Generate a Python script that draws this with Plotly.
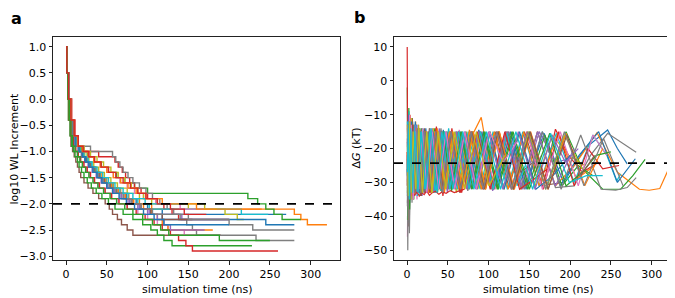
import plotly.graph_objects as go

# ---------------- data: panel a (log10 WL increment step curves) ----------------
LEVELS = [1.0, 0.5, 0.0, -0.4, -0.7, -0.9, -1.0, -1.1, -1.2, -1.3, -1.4, -1.5, -1.6,
          -1.7, -1.8, -1.9, -2.0, -2.1, -2.2, -2.3, -2.4, -2.5, -2.6, -2.7, -2.8, -2.9]

WL_STEP_TIMES = [
    [0, 1, 3, 6, 9, 12, 16, 20, 24, 29, 34, 40, 47, 55, 64, 74, 86, 100, 118],
    [0, 1, 3, 6, 9, 13, 17, 21, 26, 31, 37, 43, 50, 58, 67, 77, 90, 105, 280, 288, 296],
    [0, 1, 3, 6, 10, 14, 19, 26, 34, 43, 52, 62, 72, 84, 100, 223, 235, 245, 255, 265],
    [0, 1, 4, 7, 11, 15, 22, 40, 60, 64, 69, 73, 78, 84, 92, 100, 110, 120, 130, 138],
    [0, 1, 3, 5, 8, 11, 15, 19, 23, 27, 32, 37, 43, 50, 58, 66, 76, 88, 100, 142],
    [0, 1, 2, 3, 5, 6, 8, 10, 12, 14, 16, 18, 22, 27, 33, 40, 48, 53, 57, 63, 68, 75, 82],
    [0, 1, 2, 4, 6, 8, 11, 14, 17, 21, 25, 29, 34, 40, 47, 55, 64, 75, 88, 100, 112, 125, 145],
    [0, 1, 3, 6, 10, 15, 30, 57, 61, 66, 70, 76, 82, 90, 98, 106, 115, 124, 132, 140, 148, 155, 160, 233],
    [0, 1, 3, 6, 9, 13, 18, 23, 28, 34, 40, 47, 55, 63, 75, 90, 105, 150, 195, 210],
    [0, 1, 3, 6, 9, 13, 17, 21, 26, 31, 36, 42, 49, 57, 66, 76, 88, 102, 215],
    [0, 1, 3, 5, 8, 11, 15, 19, 23, 28, 33, 38, 44, 51, 59, 68, 78, 90, 104, 118, 245],
    [0, 1, 3, 5, 8, 12, 16, 20, 25, 30, 35, 41, 48, 56, 64, 73, 83, 95, 105, 112, 118, 125],
    [0, 1, 2, 3, 5, 7, 9, 11, 14, 16, 19, 22, 26, 31, 37, 44, 52, 60, 70, 82, 94, 104, 112, 120, 130],
    [0, 1, 3, 4, 6, 9, 12, 15, 18, 22, 26, 30, 35, 41, 48, 56, 65, 75, 86, 97, 108, 118, 128, 138, 147, 155],
    [0, 1, 3, 6, 9, 12, 16, 20, 24, 28, 33, 38, 44, 51, 59, 68, 78, 90, 102, 112, 120, 128],
    [0, 1, 3, 6, 9, 13, 17, 21, 25, 30, 35, 41, 47, 54, 62, 71, 81, 92, 104, 118],
    [0, 1, 3, 6, 10, 15, 21, 28, 35, 42, 50, 58, 66, 75, 84, 95, 110, 140],
    [0, 1, 3, 6, 9, 12, 16, 20, 24, 29, 34, 40, 46, 53, 61, 70, 80, 92, 106, 150, 200, 229],
    [0, 1, 3, 6, 10, 15, 22, 30, 38, 46, 55, 64, 72, 80, 88, 95, 112, 170],
    [0, 1, 3, 6, 9, 13, 17, 22, 27, 32, 38, 45, 52, 60, 70, 82, 97],
    [0, 1, 3, 6, 9, 12, 16, 20, 24, 28, 33, 38, 44, 50, 57, 65, 74, 84, 95, 108, 120],
    [0, 1, 3, 6, 10, 14, 20, 27, 34, 42, 50, 58, 67, 76, 86, 98, 118, 160],
    [0, 1, 2, 4, 6, 8, 11, 14, 17, 20, 24, 28, 33, 39, 46, 54, 62, 72, 82, 94, 106, 116, 126, 188],
    [0, 1, 3, 6, 10, 15, 21, 28, 35, 43, 52, 61, 70, 79, 88, 98, 112, 128, 145],
]
WL_END_TIMES = [270, 320, 288, 200, 200, 190, 165, 280, 218, 248, 280, 180,
                228, 260, 170, 155, 182, 280, 185, 145, 200, 240, 250, 172]
WL_TARGET = -2.0

# ---------------- data: panel b (Delta G estimates) ----------------
DG_TIMES = [
    [0.4,1.3,2.6,4.4,6.8,9.5,13,17.5,23,30,39,49,60,73,88,105,124,145,168,192,218,246,258,270],
    [0.6,1.8,3.3,5.2,7.6,10.5,14.5,19,25,32,41,52,64,78,91,106,122,140,160,182,205,233,258,285,297,310,320],
    [0.3,1.1,2.2,3.8,5.9,8.3,11.5,15.5,20.5,26.5,34,43,54,66,80,95,112,130,150,172,195,215,240,262,277,292],
    [0.2,0.7,1.4,2.3,3.6,5.3,7.4,10,13.5,17.5,22.5,28.5,36,45,55,67,81,96,113,131,150,168,182,198,215,232],
    [0.5,1.6,3,4.8,7,10,13.8,18.5,24,31,39.5,49.5,61,74,89,105,123,142,162,182,200],
    [0.4,1.5,2.9,4.5,6.5,9,12.3,16.4,21.4,27.4,34.6,43,53,64.5,77.5,92,108,125,144,165,190],
    [0.5,1.4,2.7,4.2,6.2,8.9,12.2,16.2,21,27,34,42.5,52.5,64,77,92,108,126,145,165],
    [0.3,0.9,1.7,2.8,4.3,6.1,8.6,11.8,15.8,20.6,26.4,33.4,41.6,51,62,74.5,88.5,104,121,140,160,182,205,225,246,264,281],
    [0.6,1.9,3.5,5.5,8,11.2,15,19.6,25.2,32,40,49.5,60.5,73,87,102,119,137,157,178,198,218],
    [0.4,1.2,2.4,4,6,8.6,11.8,15.8,20.6,26.4,33.2,41.4,51,62,75,89.5,105.5,123,142,162,183,205,228,245,257,262],
    [0.5,1.7,3.2,5,7.3,10.1,13.6,17.8,22.8,28.8,36,44.5,54.5,66,79,93.5,109.5,127,146,166,188,211,235,258,280],
    [0.3,1.3,2.5,4.1,6.2,8.8,12,16,20.8,26.6,33.6,42,52,63.5,76.5,91,107,124,143,162,185,208,230],
    [0.6,1.6,3.1,4.9,7.2,10,13.4,17.6,22.6,28.6,35.8,44.4,54.6,66.2,79.4,94.2,110.6,128.6,148,169,190,210,228],
    [0.4,1.5,2.8,4.6,6.8,9.6,13,17.2,22.2,28.2,35.4,44,54,65.6,78.8,93.6,110,128,147,167,186,205,222,240,260],
    [0.5,1.9,3.6,5.6,8.2,11.4,15.2,19.8,25.4,32,40,49.4,60.4,73,87.4,103.4,121,140,160,182,205],
    [0.3,1.2,2.6,4.3,6.5,9.3,12.7,16.8,21.6,27.4,34.4,42.6,52.2,63.4,76.2,90.6,106.6,124,140,155],
    [0.6,1.5,2.9,4.7,6.9,9.7,13.1,17.3,22.3,28.3,35.5,44.1,54.1,65.7,79,94,110.5,128.5,147.5,166,188,210,228,245],
    [0.4,1.4,2.9,4.7,6.9,9.7,13.1,17.3,22.3,28.1,35,43,52.5,63.5,76,90,106,124,144,166,189,213,238,256,270,281],
    [0.5,1.6,3.3,5.2,7.6,10.6,14.2,18.6,23.8,30,37.4,46,56.2,67.8,81,96,112.5,130.5,149,170,193,215],
    [0.3,1.3,2.7,4.4,6.6,9.3,12.7,16.8,21.7,27.5,34.5,42.7,52.3,63.3,76,90.2,106,123,135,145],
    [0.6,1.8,3.4,5.4,7.9,11,14.8,19.4,24.9,31.5,39.3,48.5,59.3,71.7,85.8,101.5,119,138,158,179,200],
    [0.4,1.5,3,4.9,7.3,10.2,13.8,18.2,23.4,29.6,37,45.8,56,67.8,81.2,96.4,113.2,131.6,151.6,173,195,218,240],
    [0.5,1.7,3.2,5.1,7.6,10.6,14.2,18.6,23.8,30,37.4,46,56,67.6,80.8,95.6,112,130,150,175,195,215,232,250],
    [0.3,1.1,2.3,3.8,5.5,7.6,10,12.4,15,18,21,24,27.5,31,35,39,43,48,53,58,64,70,86,102,120,138,156,172],
    [0.4,1.6,3.1,4.9,7.4,10.4,14.1,18.6,24,30.5,38.3,47.4,58,70.3,84.3,100,117.5,136.5,157,178,194,210],
    [0.5,1.5,2.9,4.6,6.9,9.7,13.2,17.4,22.4,28.4,35.6,44.2,54.4,66,79.4,94.6,111.6,130.4,151,173,196,213,230],
    [0.6,1.7,3.3,5.2,7.7,10.7,14.4,18.9,24.3,30.8,38.6,47.8,58.6,71,85.2,101,118,135],
    [0.3,1.2,2.6,4.2,6.5,9.3,12.7,16.9,21.9,27.9,35.1,43.7,53.9,65.5,78.7,93.5,110,128,148,170,193,217,241,265],
    [0.5,1.6,3.2,5.1,7.6,10.6,14.3,18.8,24.2,30.7,38.5,47.7,58.5,71,85,100.5,120],
    [0.4,1.4,2.8,4.6,6.9,9.8,13.4,17.8,23,29.3,36.8,45.7,56.2,68.3,82,97.5,114.7,133.5,154,176,199,220,240],
]
DG_VALUES = [
    [-22,-39,-13,-35,-12,-34,-15,-33,-14,-32.5,-15,-32,-15,-31.5,-14.5,-32,-15,-31,-15.5,-30,-20,-14.5,-20,-24.5],
    [-31,-9,-33,-13,-35,-12,-33,-15,-32,-14,-32.5,-15,-32,-17,-10.8,-31.5,-15,-32,-15,-31,-25,-15.3,-27,-32,-32.3,-31.8,-26.4],
    [-2,-31,-8,-34,-12,-35,-13,-33,-15,-32,-14,-33,-15,-32,-15,-31.5,-15,-32,-15,-31,-15,-26,-32,-32,-28,-23.2],
    [10,-28,-11,-40,-10,-34,-13,-33,-14,-34,-15,-33,-13.5,-33,-14,-33,-15,-32,-15,-32,-15.5,-30,-14.3,-22,-27,-24.5],
    [-17,-37,-12,-34,-14,-33,-13,-34,-15,-32,-14,-33,-15,-32,-16,-32.5,-15,-32,-15,-24,-23],
    [-29,-43,-16,-34,-11,-33,-14,-34,-14,-33,-15,-32,-15,-33,-15,-32,-15,-31.5,-15,-31,-30],
    [-46,-19,-37,-12,-33,-14,-35,-15,-33,-15,-32.5,-15,-32,-14.5,-32,-15,-32,-15,-29,-22],
    [-18,-50,-24,-42,-15,-36,-13,-33,-14,-33,-15,-33,-14,-32,-15,-32.5,-15,-32,-15,-32,-15,-31.5,-31,-22,-15.5,-18.5,-21.1],
    [-36,-13,-33,-11,-34,-14,-33,-15,-33,-14,-32,-15,-33,-15,-32,-15,-32,-15.5,-31,-16,-22,-25],
    [-12,-32,-9,-35,-14,-32,-13,-34,-15,-32,-15,-32.5,-14,-32,-15,-32,-15,-32,-15,-31,-15.5,-30,-16,-22,-29.6,-27.5],
    [-34,-10,-36,-15,-33,-12,-33,-15,-33,-15,-32,-14.5,-32,-15,-32,-15,-31,-15,-32,-15,-31,-22,-15,-30,-23],
    [-21,-41,-15,-33,-13,-34,-14,-32,-15,-33,-15,-32,-15,-32,-14.5,-32,-15,-32,-15,-31,-15.5,-29,-25],
    [-41,-17,-35,-13,-33,-14,-33,-14,-33,-15,-32,-15,-32.5,-15,-32,-15,-32,-15,-32,-16,-31,-25,-28],
    [-26,-37,-12,-34,-13,-33,-14,-34,-15,-33,-14,-34,-15,-33,-15,-32,-15,-32,-15,-32,-15,-31,-20,-26,-25],
    [-14,-34,-12,-33,-15,-33,-14,-32,-15,-33,-15,-32,-15,-32,-15,-31.5,-15,-31,-15,-31,-20],
    [-31,-13,-38,-14,-34,-15,-33,-15,-33,-14,-32,-15,-32,-15,-32,-15,-32,-15.5,-27,-24],
    [-24,-33,-10,-35,-14,-33,-13,-33,-15,-32,-15,-33,-15,-32,-15,-32,-15,-32,-15,-32,-15,-31,-16,-22],
    [-37,-14,-45,-16,-34,-14,-33,-15,-33,-14,-33,-15,-32,-15,-32,-15,-32,-15,-32,-15,-32,-16,-32,-32.3,-31.5,-28.6],
    [-16,-33,-14,-35,-15,-32,-13,-33,-15,-33,-15,-32,-15,-32,-15,-32,-15,-32,-15,-32,-16,-26],
    [-28,-12,-36,-15,-33,-13,-34,-15,-32,-15,-33,-15,-32,-15,-32,-15,-32,-15.5,-31,-25],
    [-36,-16,-34,-12,-34,-15,-33,-14,-33,-15,-32,-15,-32,-15,-32,-15,-32,-15,-32,-28,-22],
    [-13,-31,-12,-34,-15,-33,-14,-33,-15,-32,-14,-33,-15,-32,-15,-32,-15,-32,-15,-32,-15.5,-31,-20],
    [-33,-15,-38,-14,-33,-15,-33,-15,-32,-15,-33,-15,-32,-15,-32,-15,-32,-15,-32,-15.5,-31,-27,-22,-21],
    [-21,-36,-13,-33,-14,-34,-33.5,-32.8,-34,-33,-33.6,-32.5,-33.8,-33,-32.6,-33.5,-32.8,-33.2,-32.4,-33,-32.5,-32,-15,-32,-15,-32,-29,-26],
    [-29,-14,-33,-15,-34,-13,-33,-15,-33,-14,-32,-15,-32,-15,-32,-15,-32,-15,-32,-16,-24,-20],
    [-17,-35,-15,-33,-13,-33,-15,-34,-15,-32,-15,-32,-15,-32,-15,-32,-15,-32,-15,-32,-16,-28,-22],
    [-32,-15,-34,-13,-35,-15,-32,-14,-33,-15,-32,-15,-32,-15,-32,-15,-24,-18],
    [-23,-41,-14,-35,-15,-33,-14,-33,-15,-32,-15,-33,-15,-32,-15,-32,-15,-32,-15,-32,-15,-31,-17,-31],
    [-19,-34,-12,-33,-15,-32,-14,-33,-15,-33,-15,-32,-15,-32,-15,-31,-22],
    [-27,-13,-35,-14,-33,-15,-33,-15,-32,-14,-33,-15,-32,-15,-32,-15,-32,-15,-32,-15.5,-30,-28,-28],
]
DG_REFERENCE = -24.3

X_TICKS = [0, 50, 100, 150, 200, 250, 300]
A_Y_TICKS = [1.0, 0.5, 0.0, -0.5, -1.0, -1.5, -2.0, -2.5, -3.0]
B_Y_TICKS = [10, 0, -10, -20, -30, -40, -50]

TAB10 = ["#1f77b4", "#ff7f0e", "#2ca02c", "#d62728", "#9467bd",
         "#8c564b", "#e377c2", "#7f7f7f", "#bcbd22", "#17becf"]

FONT = "DejaVu Sans, Liberation Sans, sans-serif"
MINUS = "\u2212"

fig = go.Figure()

# panel a
for i, (ts, te) in enumerate(zip(WL_STEP_TIMES, WL_END_TIMES)):
    vals = LEVELS[:len(ts)]
    xs = list(ts) + [te]
    ys = list(vals) + [vals[-1]]
    fig.add_trace(go.Scatter(x=xs, y=ys, mode="lines", line_shape="hv",
                             line=dict(color=TAB10[i % 10], width=1.4),
                             xaxis="x", yaxis="y", showlegend=False, hoverinfo="skip"))

# panel b
for i, (ts, vs) in enumerate(zip(DG_TIMES, DG_VALUES)):
    fig.add_trace(go.Scatter(x=ts, y=vs, mode="lines",
                             line=dict(color=TAB10[i % 10], width=1.2),
                             xaxis="x2", yaxis="y2", showlegend=False, hoverinfo="skip"))

fig.add_shape(type="line", xref="x domain", yref="y", x0=0, x1=1, y0=WL_TARGET, y1=WL_TARGET,
              line=dict(color="black", width=1.6, dash="dash"))
fig.add_shape(type="line", xref="x2 domain", yref="y2", x0=0, x1=1, y0=DG_REFERENCE, y1=DG_REFERENCE,
              line=dict(color="black", width=1.6, dash="dash"))

W, H = 675, 298
top = 1 - 29 / H
bot = 1 - 255 / H

axis_common = dict(showline=True, linecolor="#222", linewidth=1, mirror=True,
                   ticks="outside", ticklen=3.5, tickwidth=1, tickcolor="#222",
                   showgrid=False, zeroline=False,
                   tickfont=dict(family=FONT, size=11, color="black"))

fig.update_layout(
    width=W, height=H,
    margin=dict(l=0, r=0, t=0, b=0),
    paper_bgcolor="white", plot_bgcolor="white",
    xaxis=dict(domain=[45 / W, 332 / W], anchor="y", range=[-16, 336],
               tickvals=X_TICKS, ticktext=[str(v) for v in X_TICKS], **axis_common),
    yaxis=dict(domain=[bot, top], anchor="x", range=[-3.08, 1.19],
               tickvals=A_Y_TICKS, ticktext=[("%.1f" % v).replace("-", MINUS) for v in A_Y_TICKS],
               **axis_common),
    xaxis2=dict(domain=[386 / W, 673 / W], anchor="y2", range=[-16, 336],
                tickvals=X_TICKS, ticktext=[str(v) for v in X_TICKS], **axis_common),
    yaxis2=dict(domain=[bot, top], anchor="x2", range=[-53, 13],
                tickvals=B_Y_TICKS, ticktext=[str(v).replace("-", MINUS) for v in B_Y_TICKS],
                **axis_common),
)

ann_font = dict(family=FONT, size=11, color="black")
fig.add_annotation(text="simulation time (ns)", x=189 / W, y=1 - 284 / H, xref="paper", yref="paper",
                   showarrow=False, xanchor="center", yanchor="middle", font=ann_font)
fig.add_annotation(text="simulation time (ns)", x=530 / W, y=1 - 284 / H, xref="paper", yref="paper",
                   showarrow=False, xanchor="center", yanchor="middle", font=ann_font)
fig.add_annotation(text="log10 WL Increment", x=7 / W, y=1 - 142 / H, xref="paper", yref="paper",
                   showarrow=False, xanchor="center", yanchor="middle", textangle=-90, font=ann_font)
fig.add_annotation(text="\u0394<i>G</i> (kT)", x=349 / W, y=1 - 142 / H, xref="paper", yref="paper",
                   showarrow=False, xanchor="center", yanchor="middle", textangle=-90, font=ann_font)
fig.add_annotation(text="<b>a</b>", x=8 / W, y=1 - 11 / H, xref="paper", yref="paper",
                   showarrow=False, xanchor="center", yanchor="middle",
                   font=dict(family=FONT, size=16, color="black"))
fig.add_annotation(text="<b>b</b>", x=351 / W, y=1 - 10 / H, xref="paper", yref="paper",
                   showarrow=False, xanchor="center", yanchor="middle",
                   font=dict(family=FONT, size=16, color="black"))

fig.write_html("out.html")
